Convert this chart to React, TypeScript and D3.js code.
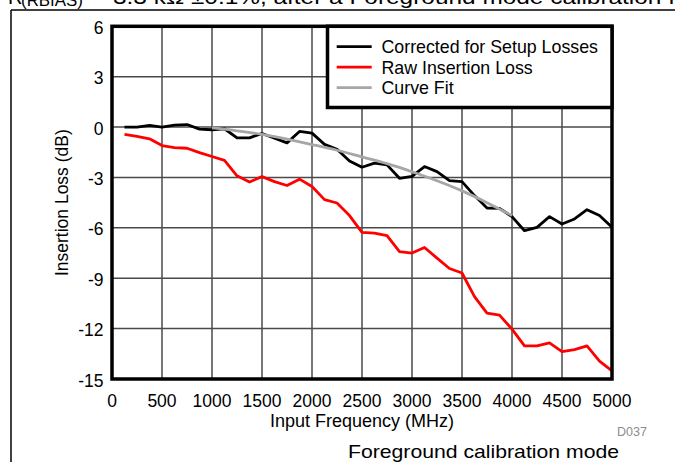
import React from "react";
import * as d3 from "d3";

const freqMHz = [125, 250, 375, 500, 625, 750, 875, 1000, 1125, 1250, 1375, 1500, 1625, 1750, 1875, 2000, 2125, 2250, 2375, 2500, 2625, 2750, 2875, 3000, 3125, 3250, 3375, 3500, 3625, 3750, 3875, 4000, 4125, 4250, 4375, 4500, 4625, 4750, 4875, 5000];
const corrected = [0, 0, 0.1, 0, 0.12, 0.15, -0.12, -0.16, -0.1, -0.64, -0.64, -0.38, -0.66, -0.94, -0.26, -0.36, -1.03, -1.32, -2.02, -2.39, -2.15, -2.25, -3.05, -2.93, -2.35, -2.65, -3.19, -3.25, -4.08, -4.82, -4.84, -5.33, -6.17, -5.97, -5.33, -5.77, -5.47, -4.92, -5.27, -5.97];
const raw = [-0.44, -0.55, -0.7, -1.1, -1.22, -1.26, -1.52, -1.75, -1.98, -2.9, -3.27, -2.95, -3.25, -3.48, -3.1, -3.54, -4.32, -4.52, -5.27, -6.27, -6.31, -6.47, -7.42, -7.5, -7.17, -7.8, -8.42, -8.69, -10.1, -11.08, -11.2, -12.03, -13.03, -13.03, -12.85, -13.37, -13.25, -13.03, -13.93, -14.52];
const fitFreqMHz = [1000, 1250, 1500, 1750, 2000, 2250, 2500, 2750, 3000, 3250, 3500, 3750, 4000];
const fitValues = [-0.05, -0.22, -0.44, -0.72, -1.04, -1.38, -1.78, -2.18, -2.66, -3.2, -3.8, -4.5, -5.27];

const xTicks = [0, 500, 1000, 1500, 2000, 2500, 3000, 3500, 4000, 4500, 5000];
const yTicks = [6, 3, 0, -3, -6, -9, -12, -15];

const legendItems = [
  { label: "Corrected for Setup Losses", color: "#000000" },
  { label: "Raw Insertion Loss", color: "#ff0000" },
  { label: "Curve Fit", color: "#a6a6a6" },
];

const FONT = "'Liberation Sans', Arial, Helvetica, sans-serif";

export default function App() {
  const W = 675, H = 462;
  const left = 112, right = 612, top = 26.3, bottom = 379;
  const x = d3.scaleLinear().domain([0, 5000]).range([left, right]);
  const y = d3.scaleLinear().domain([-15, 6]).range([bottom, top]);

  const line = d3.line<[number, number]>().x(d => x(d[0])).y(d => y(d[1]));
  const fitLine = d3.line<[number, number]>().x(d => x(d[0])).y(d => y(d[1])).curve(d3.curveMonotoneX);

  const corrPts = freqMHz.map((f, i) => [f, corrected[i]] as [number, number]);
  const rawPts = freqMHz.map((f, i) => [f, raw[i]] as [number, number]);
  const fitPts = fitFreqMHz.map((f, i) => [f, fitValues[i]] as [number, number]);

  const lg = { x0: 327.5, y0: top, x1: right, y1: 107.5 };

  return (
    <svg width={W} height={H} style={{ position: "absolute", left: 0, top: 0, background: "#fff" }} fontFamily={FONT}>
      <rect x={0} y={0} width={W} height={H} fill="#fff" />
      {/* clipped title (cut at the top edge, as in the reference) */}
      <text x={8} y={3.6} fontSize={20} fill="#000">R</text>
      <text x={21} y={6} fontSize={16} textLength={62} lengthAdjust="spacingAndGlyphs" fill="#000">(RBIAS)</text>
      <text x={90} y={1} fontSize={20} fill="#000">=</text>
      <text x={113} y={3.6} fontSize={20} textLength={562} lengthAdjust="spacingAndGlyphs" fill="#000">3.3 kΩ ±0.1%, after a Foreground mode calibration f</text>
      {/* outer frame */}
      <line x1={11} y1={10} x2={W} y2={10} stroke="#000" strokeWidth={1.5} />
      <line x1={11} y1={10} x2={11} y2={H} stroke="#000" strokeWidth={1.5} />

      {/* grid */}
      {xTicks.map(t => (
        <line key={"gx" + t} x1={x(t)} x2={x(t)} y1={top} y2={bottom} stroke="#4a4a4a" strokeWidth={1.5} />
      ))}
      {yTicks.map(t => (
        <line key={"gy" + t} x1={left} x2={right} y1={y(t)} y2={y(t)} stroke="#4a4a4a" strokeWidth={1.5} />
      ))}

      {/* data */}
      <path d={line(rawPts) || ""} fill="none" stroke="#ff0000" strokeWidth={2.8} strokeLinejoin="round" />
      <path d={line(corrPts) || ""} fill="none" stroke="#000" strokeWidth={2.8} strokeLinejoin="round" />
      <path d={fitLine(fitPts) || ""} fill="none" stroke="#a6a6a6" strokeWidth={2.8} />

      {/* plot border */}
      <rect x={left} y={top} width={right - left} height={bottom - top} fill="none" stroke="#000" strokeWidth={3.5} />

      {/* legend */}
      <rect x={lg.x0} y={lg.y0} width={lg.x1 - lg.x0} height={lg.y1 - lg.y0} fill="#fff" stroke="#000" strokeWidth={3.5} />
      {legendItems.map((it, i) => {
        const ly = 46.7 + i * 20.5;
        return (
          <g key={it.label}>
            <line x1={336.7} x2={371.7} y1={ly} y2={ly} stroke={it.color} strokeWidth={2.8} />
            <text x={381.5} y={ly + 6.3} fontSize={17.8} fill="#000">{it.label}</text>
          </g>
        );
      })}

      {/* tick labels */}
      {xTicks.map(t => (
        <text key={"tx" + t} x={x(t)} y={407.3} fontSize={17.5} textAnchor="middle" fill="#000">{t}</text>
      ))}
      {yTicks.map(t => (
        <text key={"ty" + t} x={103.5} y={y(t) + 7.5} fontSize={17.5} textAnchor="end" fill="#000">{t}</text>
      ))}

      {/* axis titles */}
      <text x={(left + right) / 2} y={427.3} fontSize={18} textAnchor="middle" fill="#000">Input Frequency (MHz)</text>
      <text transform={`translate(68, ${(top + bottom) / 2}) rotate(-90)`} fontSize={17.5} textAnchor="middle" fill="#000">Insertion Loss (dB)</text>

      <text x={617} y={435.7} fontSize={12.5} fill="#8c8c8c">D037</text>
      <text x={348} y={458.3} fontSize={18.5} textLength={271} lengthAdjust="spacingAndGlyphs" fill="#000">Foreground calibration mode</text>
    </svg>
  );
}
